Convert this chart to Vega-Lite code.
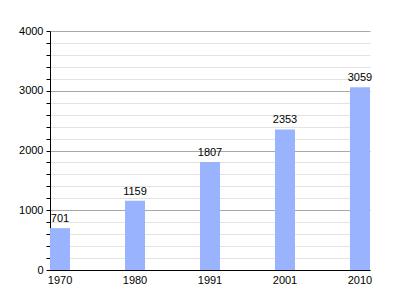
{
  "$schema": "https://vega.github.io/schema/vega-lite/v6.json",
  "autosize": "none",
  "width": 320,
  "height": 239,
  "padding": {"left": 50, "top": 31, "right": 30, "bottom": 30},
  "background": "white",
  "config": {
    "view": {"stroke": null},
    "font": "Liberation Sans",
    "axis": {"labelFont": "Liberation Sans", "labelFontSize": 11, "labelColor": "black"}
  },
  "data": {
    "values": [
      {"year": "1970", "pop": 701},
      {"year": "1980", "pop": 1159},
      {"year": "1991", "pop": 1807},
      {"year": "2001", "pop": 2353},
      {"year": "2010", "pop": 3059}
    ]
  },
  "encoding": {
    "x": {
      "field": "year", "type": "ordinal",
      "scale": {"paddingInner": 0.733, "paddingOuter": 0},
      "axis": {"title": null, "labelAngle": 0, "ticks": false, "domainColor": "black", "labelPadding": 4}
    },
    "y": {
      "field": "pop", "type": "quantitative",
      "scale": {"domain": [0, 4000], "nice": false},
      "axis": {
        "title": null,
        "values": [0, 200, 400, 600, 800, 1000, 1200, 1400, 1600, 1800, 2000, 2200, 2400, 2600, 2800, 3000, 3200, 3400, 3600, 3800, 4000],
        "labelExpr": "datum.value % 1000 === 0 ? datum.label : ''",
        "format": "d",
        "grid": true,
        "gridColor": {"condition": {"test": "datum.value % 1000 === 0", "value": "#a8a8a8"}, "value": "#e3e3e3"},
        "domainColor": "black",
        "tickColor": "black",
        "tickSize": 4,
        "labelPadding": 3
      }
    }
  },
  "layer": [
    {"mark": {"type": "bar", "color": "#99b3ff"}},
    {
      "mark": {"type": "text", "baseline": "bottom", "dy": -4, "fontSize": 11, "font": "Liberation Sans", "color": "black"},
      "encoding": {"text": {"field": "pop", "type": "quantitative"}}
    }
  ]
}
